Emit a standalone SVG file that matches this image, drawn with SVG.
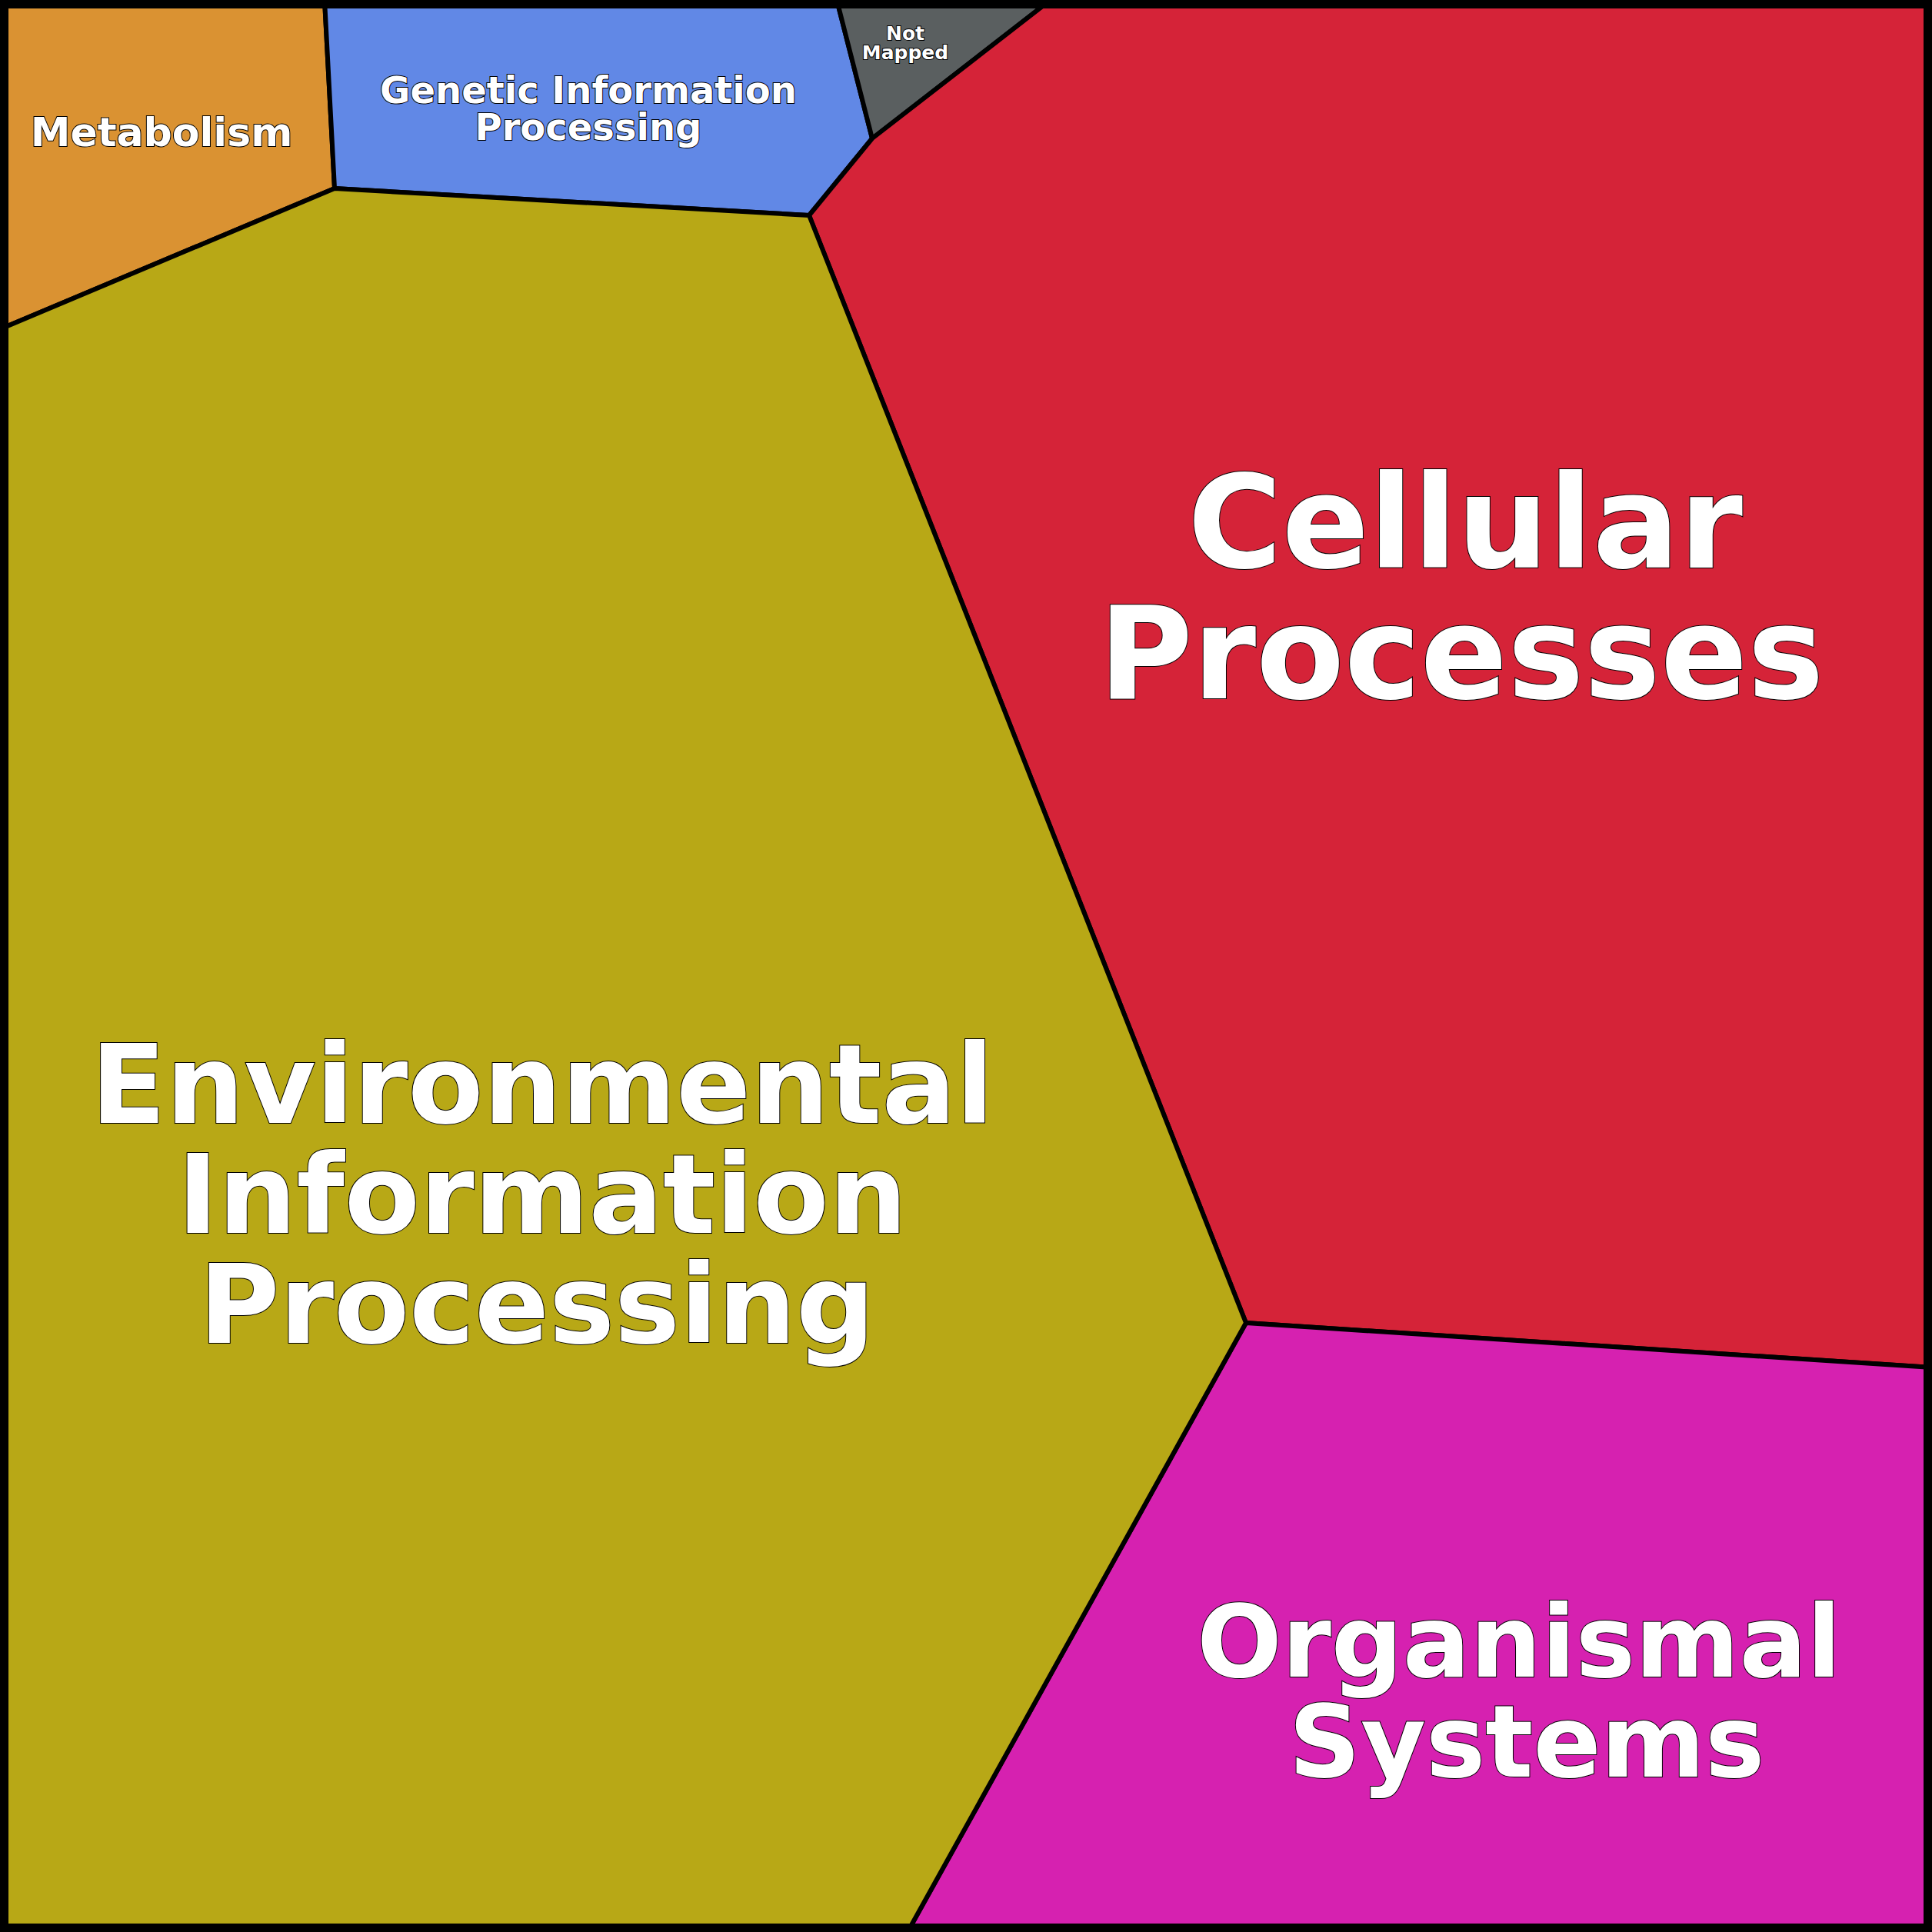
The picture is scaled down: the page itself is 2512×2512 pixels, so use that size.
<svg xmlns="http://www.w3.org/2000/svg" width="2512" height="2512" viewBox="0 0 2512 2512">
<style>
.c{stroke:#000;stroke-width:6;stroke-linejoin:round}
.t{font-family:"DejaVu Sans",sans-serif;font-weight:bold;fill:#fff;stroke:#000;stroke-width:2;paint-order:stroke;text-anchor:middle}
</style>
<g id="metabolism"><polygon class="c" fill="#da9232" points="0,0 422,0 435,245 0,428"/><text class="t" x="210" y="190" font-size="52">Metabolism</text></g>
<g id="genetic"><polygon class="c" fill="#6188e6" points="422,0 1088,0 1134,180 1052,280 435,245"/><text class="t" x="765" y="134" font-size="48">Genetic Information</text><text class="t" x="765" y="182" font-size="48">Processing</text></g>
<g id="notmapped"><polygon class="c" fill="#5a5f60" points="1088,0 1366,0 1134,180"/><text class="t" x="1177" y="52" font-size="25">Not</text><text class="t" x="1177" y="77" font-size="25">Mapped</text></g>
<g id="cellular"><polygon class="c" fill="#d52338" points="1366,0 2512,0 2512,1778 1620,1720 1052,280 1134,180"/><text class="t" x="1905" y="738" font-size="167">Cellular</text><text class="t" x="1900" y="908" font-size="167">Processes</text></g>
<g id="organismal"><polygon class="c" fill="#d621b0" points="1620,1720 2512,1778 2512,2512 1180,2512"/><text class="t" x="1975" y="2180" font-size="130">Organismal</text><text class="t" x="1985" y="2310" font-size="130">Systems</text></g>
<g id="environmental"><polygon class="c" fill="#b8a816" points="0,428 435,245 1052,280 1620,1720 1180,2512 0,2512"/><text class="t" x="705" y="1460" font-size="143">Environmental</text><text class="t" x="705" y="1603" font-size="143">Information</text><text class="t" x="698" y="1746" font-size="143">Processing</text></g>
<g id="connectors"></g>
<rect x="5" y="5" width="2502" height="2502" fill="none" stroke="#000" stroke-width="12"/>
</svg>
